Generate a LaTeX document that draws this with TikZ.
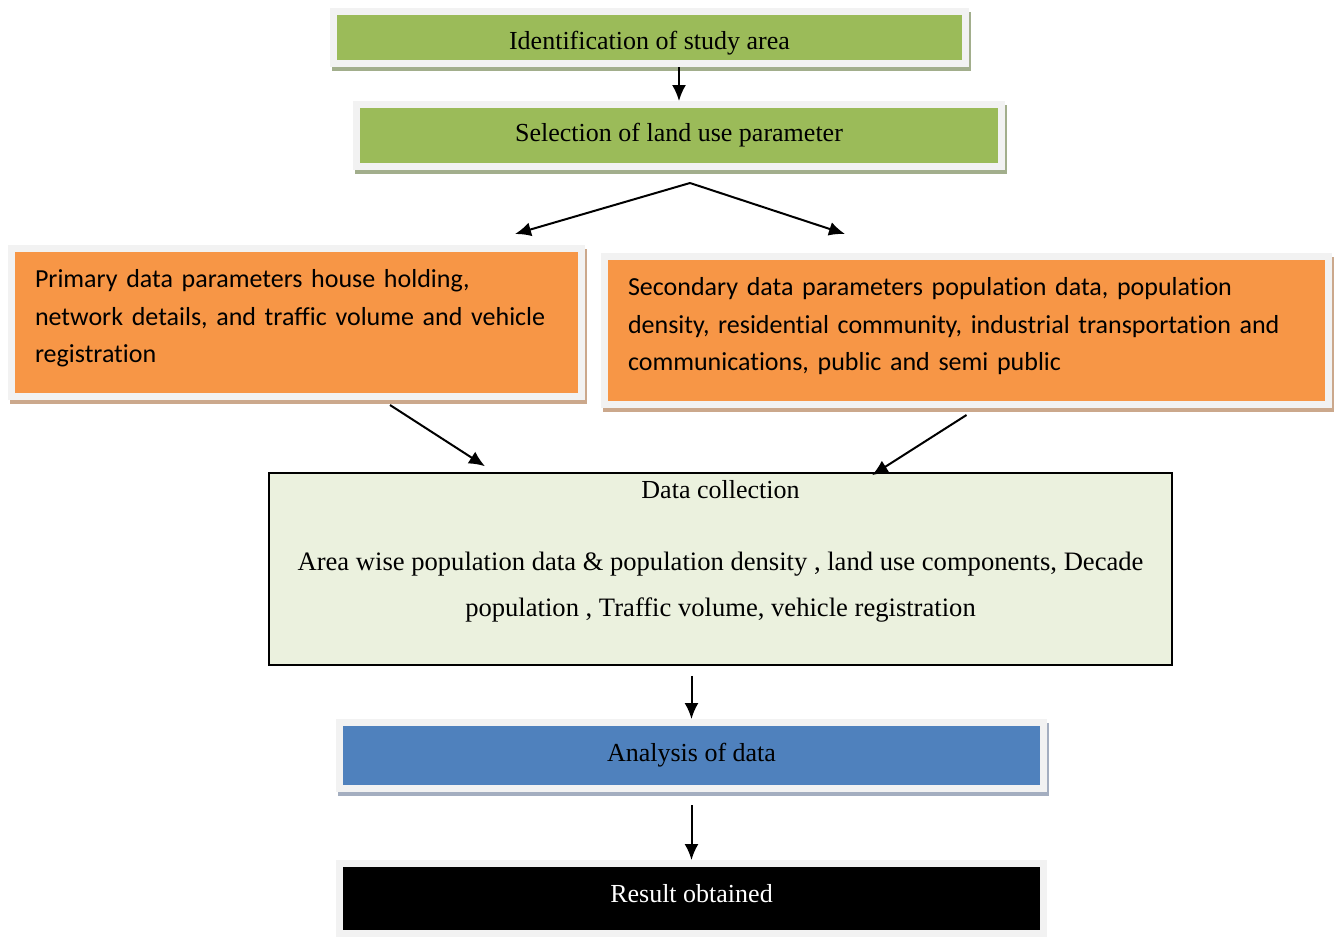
\documentclass[tikz,border=0pt]{standalone}
\usepackage{fontspec}
\setmainfont{Liberation Serif}
\newfontfamily\calibri[Ligatures=NoCommon]{Carlito}
\usetikzlibrary{arrows.meta,shadows}
\definecolor{framegray}{HTML}{F2F2F2}
\definecolor{stepgreen}{HTML}{9BBB59}
\definecolor{greenshade}{HTML}{A2AE8C}
\definecolor{steporange}{HTML}{F79646}
\definecolor{orangeshade}{HTML}{CBA88C}
\definecolor{stepblue}{HTML}{4F81BD}
\definecolor{blueshade}{HTML}{A4AEC0}
\definecolor{collgreen}{HTML}{EBF1DE}
\tikzset{
	framed/.style={draw=framegray,line width=7pt,inner sep=0pt},
	greenbox/.style={framed,fill=stepgreen,drop shadow={shadow xshift=2pt,shadow yshift=-4pt,fill=none,draw=greenshade,line width=7pt,opacity=1}},
	orangebox/.style={framed,fill=steporange,drop shadow={shadow xshift=2pt,shadow yshift=-4pt,fill=none,draw=orangeshade,line width=7pt,opacity=1}},
	bluebox/.style={framed,fill=stepblue,drop shadow={shadow xshift=2pt,shadow yshift=-4pt,fill=none,draw=blueshade,line width=7pt,opacity=1}},
	blackbox/.style={framed,fill=black,text=white},
	serif/.style={font=\fontsize{26}{46}\selectfont},
	sans/.style={font=\calibri\fontsize{26}{37.5}\selectfont,align=left,text depth=88pt},
	arr/.style={-{Latex[length=16pt,width=14pt]},line width=2pt}
}
\begin{document}
\begin{tikzpicture}[x=1pt,y=-1pt]
			\useasboundingbox (0,0) rectangle (1338,938);
			\node[greenbox,serif,minimum width=632,minimum height=52,text height=24pt,text depth=0pt] (idf) at (649.5,37.5) {Identification of study area};
			\node[greenbox,serif,minimum width=645,minimum height=62] (sel) at (679,135.5) {Selection of land use parameter};
			\node[orangebox,sans,minimum width=570,minimum height=148,text width=523,inner xsep=23.5pt] (prim) at (296.5,322.5)
				{Primary data parameters house holding,\\network details, and traffic volume and vehicle\\registration};
			\node[orangebox,sans,minimum width=724,minimum height=148,text width=677,inner xsep=23.5pt] (sec) at (966.5,330.5)
				{Secondary data parameters population data, population\\density, residential community, industrial transportation and\\communications, public and semi public};
			\node[draw,line width=1.5pt,fill=collgreen,minimum width=903,minimum height=192] (coll) at (720.5,569) {};
			\node[serif] (colltitle) at (720.5,490) {Data collection};
			\node[serif,font=\fontsize{26.6}{46}\selectfont,align=center] (colltext) at (720.5,587) {Area wise population data \& population density , land use components, Decade\\population , Traffic volume, vehicle registration};
			\node[bluebox,serif,minimum width=704,minimum height=66] (anal) at (691.5,755.5) {Analysis of data};
			\node[blackbox,serif,minimum width=704,minimum height=70,text depth=10pt] (res) at (691.5,898.5) {Result obtained};

			\coordinate (fork) at (690,183);
			\coordinate (primtop) at (515,234);
			\coordinate (sectop) at (845,234);
			\draw[arr] (sel.north |- idf.south) -- (sel.north);
			\draw[arr] (fork) -- (primtop);
			\draw[arr] (fork) -- (sectop);
			\draw[arr] ([xshift=93.5pt,yshift=-5pt]prim.south) -- ([xshift=-235.5pt,yshift=6pt]coll.north);
			\draw[arr] ([yshift=-7pt]sec.south) -- ([xshift=151.5pt,yshift=-3pt]coll.north);
			\draw[arr] ([yshift=-10pt]coll.south -| anal.north) -- (anal.north);
			\draw[arr] ([yshift=-13pt]anal.south) -- (res.north);
		\end{tikzpicture}
\end{document}
